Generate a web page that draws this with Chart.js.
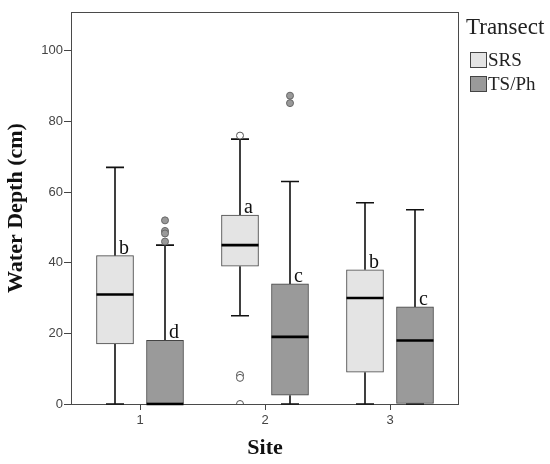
<!DOCTYPE html>
<html>
<head>
<meta charset="utf-8">
<script src="https://cdn.jsdelivr.net/npm/chart.js@4/dist/chart.umd.min.js"></script>
<style>
  html, body { margin: 0; padding: 0; background: #fff; }
  #wrap { width: 550px; height: 464px; }
</style>
</head>
<body>
<div id="wrap"><canvas id="myChart"></canvas></div>
<script>
// data
const sites = [1, 2, 3];
const siteLabels = ["1", "2", "3"];
const yTicks = [0, 20, 40, 60, 80, 100];

const srsMin = [0, 25, 0];
const srsQ1 = [17, 39, 9];
const srsMedian = [31, 45, 30];
const srsQ3 = [42, 53.5, 38];
const srsMax = [67, 75, 57];
const srsOutliers = [[], [76, 8.2, 7.4, 0], []];
const srsLetters = ["b", "a", "b"];

const tsMin = [0, 0, 0];
const tsQ1 = [0, 2.5, 0];
const tsMedian = [0, 19, 18];
const tsQ3 = [18, 34, 27.5];
const tsMax = [45, 63, 55];
const tsOutliers = [[52, 49, 48.3, 46], [87.3, 85.2], []];
const tsLetters = ["d", "c", "c"];

const shift = 0.2;            // half the distance between the two boxes of a site
const srsColor = "#e4e4e4";
const tsColor = "#9a9a9a";

function boxes(q1, q3, dx) {
  return sites.map((s, i) => ({ x: s + dx, y: [q1[i], q3[i]] }));
}
function outlierPoints(list, dx) {
  let pts = [];
  list.forEach((vals, i) => vals.forEach(v => pts.push({ x: sites[i] + dx, y: v })));
  return pts;
}

// box parts for the plugin
const groups = [
  { dx: -shift, min: srsMin, med: srsMedian, q1: srsQ1, q3: srsQ3, max: srsMax, letters: srsLetters },
  { dx: shift, min: tsMin, med: tsMedian, q1: tsQ1, q3: tsQ3, max: tsMax, letters: tsLetters }
];

const boxPlugin = {
  id: "boxParts",
  beforeDatasetsDraw(chart) {
    const ctx = chart.ctx, x = chart.scales.x, y = chart.scales.y, a = chart.chartArea;
    ctx.save();
    // frame round the plot
    ctx.strokeStyle = "#4a4a4a";
    ctx.lineWidth = 1;
    ctx.strokeRect(a.left + 0.5, a.top + 0.5, a.right - a.left - 1, a.bottom - a.top);
    // whiskers
    ctx.strokeStyle = "#111";
    ctx.lineWidth = 1.6;
    groups.forEach(g => {
      sites.forEach((s, i) => {
        const px = x.getPixelForValue(s + g.dx);
        const cap = x.getPixelForValue(s + g.dx + 0.072) - px;
        ctx.beginPath();
        ctx.moveTo(px, y.getPixelForValue(g.q3[i]));
        ctx.lineTo(px, y.getPixelForValue(g.max[i]));
        ctx.moveTo(px, y.getPixelForValue(g.q1[i]));
        ctx.lineTo(px, y.getPixelForValue(g.min[i]));
        ctx.moveTo(px - cap, y.getPixelForValue(g.max[i]));
        ctx.lineTo(px + cap, y.getPixelForValue(g.max[i]));
        ctx.moveTo(px - cap, y.getPixelForValue(g.min[i]));
        ctx.lineTo(px + cap, y.getPixelForValue(g.min[i]));
        ctx.stroke();
      });
    });
    ctx.restore();
  },
  afterDatasetsDraw(chart) {
    const ctx = chart.ctx, x = chart.scales.x, y = chart.scales.y;
    ctx.save();
    groups.forEach(g => {
      sites.forEach((s, i) => {
        const px = x.getPixelForValue(s + g.dx);
        const half = x.getPixelForValue(s + g.dx + 0.148) - px;
        // median
        ctx.strokeStyle = "#000";
        ctx.lineWidth = 2.6;
        ctx.beginPath();
        ctx.moveTo(px - half, y.getPixelForValue(g.med[i]));
        ctx.lineTo(px + half, y.getPixelForValue(g.med[i]));
        ctx.stroke();
        // significance letter
        ctx.fillStyle = "#111";
        ctx.font = "20px 'Liberation Serif', serif";
        ctx.textAlign = "left";
        ctx.textBaseline = "alphabetic";
        ctx.fillText(g.letters[i], px + 4, y.getPixelForValue(g.q3[i]) - 2);
      });
    });
    ctx.restore();
  },
  afterDraw(chart) {
    // legend on the right
    const ctx = chart.ctx;
    ctx.save();
    ctx.fillStyle = "#222";
    ctx.textAlign = "left";
    ctx.textBaseline = "alphabetic";
    ctx.font = "23px 'Liberation Serif', serif";
    ctx.fillText("Transect", 466, 34);
    const items = [["SRS", srsColor, 52], ["TS/Ph", tsColor, 76]];
    ctx.font = "19px 'Liberation Serif', serif";
    items.forEach(it => {
      ctx.fillStyle = it[1];
      ctx.fillRect(470.5, it[2] + 0.5, 16, 15);
      ctx.strokeStyle = "#444";
      ctx.lineWidth = 1;
      ctx.strokeRect(470.5, it[2] + 0.5, 16, 15);
      ctx.fillStyle = "#222";
      ctx.fillText(it[0], 488, it[2] + 14);
    });
    ctx.restore();
  }
};

let myChart = document.getElementById("myChart").getContext("2d");

let boxChart = new Chart(myChart, {
  type: "bar",
  data: {
    datasets: [
      {
        label: "SRS",
        data: boxes(srsQ1, srsQ3, -shift),
        backgroundColor: srsColor,
        borderColor: "#444",
        borderWidth: 1,
        borderSkipped: false,
        barThickness: 37,
        grouped: false
      },
      {
        label: "TS/Ph",
        data: boxes(tsQ1, tsQ3, shift),
        backgroundColor: tsColor,
        borderColor: "#444",
        borderWidth: 1,
        borderSkipped: false,
        barThickness: 37,
        grouped: false
      },
      {
        type: "scatter",
        label: "SRS outliers",
        data: outlierPoints(srsOutliers, -shift),
        backgroundColor: "#fff",
        borderColor: "#555",
        borderWidth: 1,
        pointRadius: 3.5,
        clip: 0
      },
      {
        type: "scatter",
        label: "TS/Ph outliers",
        data: outlierPoints(tsOutliers, shift),
        backgroundColor: "#999",
        borderColor: "#666",
        borderWidth: 1,
        pointRadius: 3.5,
        clip: 0
      }
    ]
  },
  options: {
    responsive: true,
    maintainAspectRatio: false,
    animation: false,
    layout: { padding: { top: 12, right: 91, left: 0, bottom: 0 } },
    plugins: {
      legend: { display: false },
      tooltip: { enabled: false }
    },
    scales: {
      x: {
        type: "linear",
        min: 0.448,
        max: 3.552,
        offset: false,
        afterBuildTicks: s => { s.ticks = sites.map(v => ({ value: v })); },
        afterFit: s => { s.height = 60; },
        grid: { offset: false, drawOnChartArea: false, tickLength: 6, tickColor: "#444" },
        border: { display: false },
        ticks: {
          padding: 3,
          color: "#444",
          font: { family: "Liberation Sans", size: 13 },
          callback: (v) => siteLabels[sites.indexOf(v)]
        },
        title: {
          display: true,
          text: "Site",
          color: "#111",
          padding: 2,
          font: { family: "Liberation Serif", size: 22, weight: "bold" }
        }
      },
      y: {
        min: 0,
        max: 111,
        afterBuildTicks: s => { s.ticks = yTicks.map(v => ({ value: v })); },
        afterFit: s => { s.width = 71; },
        grid: { drawOnChartArea: false, tickLength: 7, tickColor: "#444" },
        border: { display: false },
        ticks: {
          padding: 1,
          color: "#444",
          font: { family: "Liberation Sans", size: 13 }
        },
        title: {
          display: true,
          text: "Water Depth (cm)",
          color: "#111",
          padding: 3,
          font: { family: "Liberation Serif", size: 22, weight: "bold" }
        }
      }
    }
  },
  plugins: [boxPlugin]
});
</script>
</body>
</html>
